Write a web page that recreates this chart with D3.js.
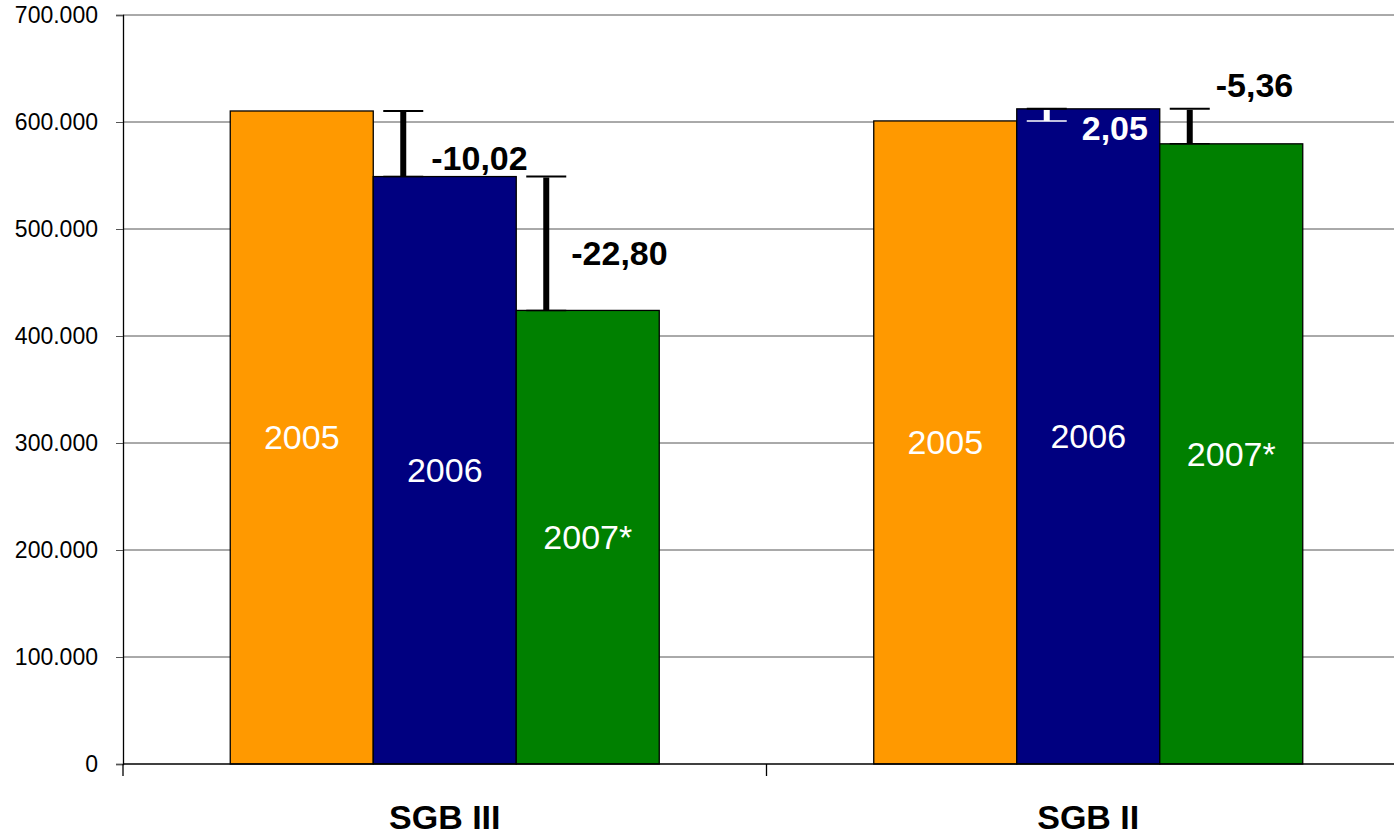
<!DOCTYPE html>
<html>
<head>
<meta charset="utf-8">
<script src="https://cdn.jsdelivr.net/npm/d3@7"></script>
<style>
  body { margin: 0; background: #fff; }
  svg text { font-family: "Liberation Sans", Arial, sans-serif; }
</style>
</head>
<body>
<svg id="chart" width="1394" height="836"></svg>
<script>
// data
var categories = ["SGB III", "SGB II"];
var years = ["2005", "2006", "2007*"];
var sgb3 = [610300, 549000, 423900];
var sgb2 = [601000, 612300, 579600];
var changes3 = [null, "-10,02", "-22,80"];
var changes2 = [null, "2,05", "-5,36"];
var yTicks = [0, 100000, 200000, 300000, 400000, 500000, 600000, 700000];

var colors = ["#FF9900", "#000080", "#008000"];
// label offsets from the error line [dx, dy from the line's top]
var labelOffsets = {"SGB III": [null, [28, 59], [25, 88]], "SGB II": [null, [35, 31], [26, -12]]};

var series = {"SGB III": sgb3, "SGB II": sgb2};
var changes = {"SGB III": changes3, "SGB II": changes2};

var svg = d3.select("#chart");
var plotL = 123, plotT = 15, plotB = 764, plotR = 1410;

var y = d3.scaleLinear().domain([0, 700000]).range([plotB, plotT]);
var x0 = d3.scaleBand().domain(categories).range([plotL, plotR]);
var barW = x0.bandwidth() / 4.5;
var x1 = d3.scaleBand().domain(years).range([0, barW * 3]);
var offs = (x0.bandwidth() - barW * 3) / 2;

var fmt = function(d){ return d3.format(",")(d).replace(/,/g, "."); };

// grid
svg.append("g").selectAll("line").data(yTicks.slice(1)).enter().append("line")
    .attr("x1", plotL).attr("x2", 1394)
    .attr("y1", function(d){ return y(d); }).attr("y2", function(d){ return y(d); })
    .attr("stroke", "#555").attr("stroke-width", 1);

// y axis
var yAxis = svg.append("g").attr("transform", "translate(" + plotL + ",0)")
    .call(d3.axisLeft(y).tickValues(yTicks).tickFormat(fmt).tickSize(7).tickPadding(18));
yAxis.select(".domain").attr("stroke", "#000").attr("stroke-width", 1.3);
yAxis.selectAll(".tick line").attr("stroke", "#555");
yAxis.selectAll("text").attr("font-size", 23).attr("fill", "#000")
    .style("font-family", "Liberation Sans, Arial, sans-serif");

// bars
categories.forEach(function(cat){
    var g = svg.append("g").attr("transform", "translate(" + (x0(cat) + offs) + ",0)");
    var vals = series[cat];
    g.selectAll("rect").data(vals).enter().append("rect")
        .attr("x", function(d, i){ return x1(years[i]); })
        .attr("y", function(d){ return y(d); })
        .attr("width", barW)
        .attr("height", function(d){ return plotB - y(d); })
        .attr("fill", function(d, i){ return colors[i]; })
        .attr("stroke", "#000").attr("stroke-width", 1.3);
    g.selectAll("text.yr").data(vals).enter().append("text")
        .attr("class", "yr")
        .attr("x", function(d, i){ return x1(years[i]) + barW / 2; })
        .attr("y", function(d){ return (y(d) + plotB) / 2; })
        .attr("dy", "0.35em")
        .attr("text-anchor", "middle")
        .attr("font-size", 34).attr("fill", "#fff")
        .text(function(d, i){ return years[i]; });

    // change markers
    for (var i = 1; i < vals.length; i++) {
        var lx = x1(years[i]) + 30;
        var yTop = y(Math.max(vals[i], vals[i - 1]));
        var yBot = y(Math.min(vals[i], vals[i - 1]));
        var col = vals[i] > vals[i - 1] ? "#fff" : "#000";
        g.append("line").attr("x1", lx).attr("x2", lx).attr("y1", yTop + 1).attr("y2", yBot)
            .attr("stroke", col).attr("stroke-width", 6);
        g.append("line").attr("x1", lx - 20).attr("x2", lx + 20).attr("y1", yTop).attr("y2", yTop)
            .attr("stroke", "#000").attr("stroke-width", 2);
        g.append("line").attr("x1", lx - 20).attr("x2", lx + 20).attr("y1", yBot).attr("y2", yBot)
            .attr("stroke", col).attr("stroke-width", 1.5);
        var o = labelOffsets[cat][i];
        g.append("text").attr("x", lx + o[0]).attr("y", yTop + o[1])
            .attr("font-size", 34).attr("font-weight", "bold").attr("fill", col)
            .text(changes[cat][i]);
    }
});

// x axis
svg.append("line").attr("x1", plotL).attr("x2", 1394).attr("y1", plotB).attr("y2", plotB)
    .attr("stroke", "#000").attr("stroke-width", 1.3);
svg.append("g").selectAll("line").data(categories).enter().append("line")
    .attr("x1", function(d){ return x0(d); }).attr("x2", function(d){ return x0(d); })
    .attr("y1", plotB).attr("y2", plotB + 12)
    .attr("stroke", "#000").attr("stroke-width", 1.3);
svg.append("g").selectAll("text").data(categories).enter().append("text")
    .attr("x", function(d){ return x0(d) + x0.bandwidth() / 2; })
    .attr("y", 829)
    .attr("text-anchor", "middle")
    .attr("font-size", 34).attr("font-weight", "bold").attr("fill", "#000")
    .text(function(d){ return d; });
</script>
</body>
</html>
